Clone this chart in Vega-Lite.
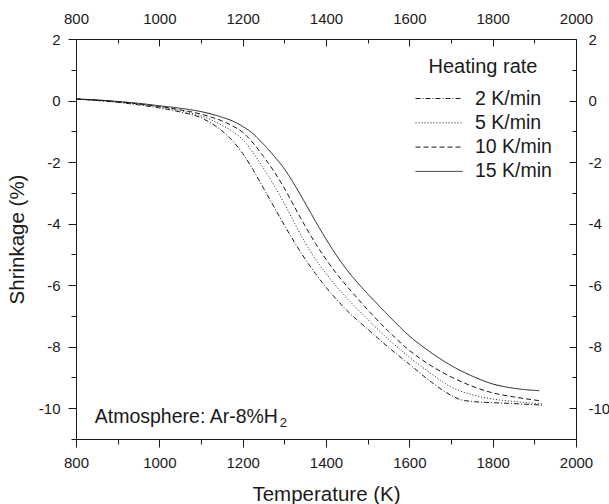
{
  "$schema": "https://vega.github.io/schema/vega-lite/v6.json",
  "width": 500,
  "height": 400,
  "autosize": {"type": "none"},
  "padding": {"left": 76, "top": 39, "right": 33, "bottom": 65},
  "config": {
    "font": "Liberation Sans",
    "view": {"stroke": null},
    "axis": {
      "grid": false,
      "domainColor": "#1a1a1a",
      "tickColor": "#1a1a1a",
      "labelColor": "#1a1a1a",
      "titleColor": "#1a1a1a",
      "labelFont": "Liberation Sans",
      "titleFont": "Liberation Sans",
      "labelFontSize": 15,
      "titleFontSize": 20.5,
      "titleFontWeight": "normal",
      "labelOverlap": false,
      "labelFlush": false
    }
  },
  "datasets": {
    "curves": [
      {"rate": "2 K/min", "T": 800, "S": 0.05}, {"rate": "2 K/min", "T": 850, "S": 0.0}, {"rate": "2 K/min", "T": 900, "S": -0.06}, {"rate": "2 K/min", "T": 950, "S": -0.14}, {"rate": "2 K/min", "T": 1000, "S": -0.24}, {"rate": "2 K/min", "T": 1050, "S": -0.37}, {"rate": "2 K/min", "T": 1100, "S": -0.56}, {"rate": "2 K/min", "T": 1125, "S": -0.74}, {"rate": "2 K/min", "T": 1150, "S": -0.98}, {"rate": "2 K/min", "T": 1175, "S": -1.3}, {"rate": "2 K/min", "T": 1200, "S": -1.72}, {"rate": "2 K/min", "T": 1225, "S": -2.25}, {"rate": "2 K/min", "T": 1250, "S": -2.85}, {"rate": "2 K/min", "T": 1275, "S": -3.45}, {"rate": "2 K/min", "T": 1300, "S": -4.05}, {"rate": "2 K/min", "T": 1325, "S": -4.62}, {"rate": "2 K/min", "T": 1350, "S": -5.15}, {"rate": "2 K/min", "T": 1375, "S": -5.63}, {"rate": "2 K/min", "T": 1400, "S": -6.07}, {"rate": "2 K/min", "T": 1425, "S": -6.46}, {"rate": "2 K/min", "T": 1450, "S": -6.82}, {"rate": "2 K/min", "T": 1500, "S": -7.43}, {"rate": "2 K/min", "T": 1550, "S": -8.02}, {"rate": "2 K/min", "T": 1600, "S": -8.57}, {"rate": "2 K/min", "T": 1650, "S": -9.12}, {"rate": "2 K/min", "T": 1700, "S": -9.58}, {"rate": "2 K/min", "T": 1725, "S": -9.73}, {"rate": "2 K/min", "T": 1750, "S": -9.78}, {"rate": "2 K/min", "T": 1800, "S": -9.82}, {"rate": "2 K/min", "T": 1850, "S": -9.85}, {"rate": "2 K/min", "T": 1920, "S": -9.9},
      {"rate": "5 K/min", "T": 800, "S": 0.05}, {"rate": "5 K/min", "T": 850, "S": 0.01}, {"rate": "5 K/min", "T": 900, "S": -0.05}, {"rate": "5 K/min", "T": 950, "S": -0.12}, {"rate": "5 K/min", "T": 1000, "S": -0.21}, {"rate": "5 K/min", "T": 1050, "S": -0.33}, {"rate": "5 K/min", "T": 1100, "S": -0.5}, {"rate": "5 K/min", "T": 1125, "S": -0.63}, {"rate": "5 K/min", "T": 1150, "S": -0.8}, {"rate": "5 K/min", "T": 1175, "S": -1.0}, {"rate": "5 K/min", "T": 1200, "S": -1.27}, {"rate": "5 K/min", "T": 1225, "S": -1.7}, {"rate": "5 K/min", "T": 1250, "S": -2.2}, {"rate": "5 K/min", "T": 1275, "S": -2.75}, {"rate": "5 K/min", "T": 1300, "S": -3.35}, {"rate": "5 K/min", "T": 1325, "S": -4.0}, {"rate": "5 K/min", "T": 1350, "S": -4.62}, {"rate": "5 K/min", "T": 1375, "S": -5.16}, {"rate": "5 K/min", "T": 1400, "S": -5.62}, {"rate": "5 K/min", "T": 1425, "S": -6.04}, {"rate": "5 K/min", "T": 1450, "S": -6.42}, {"rate": "5 K/min", "T": 1500, "S": -7.11}, {"rate": "5 K/min", "T": 1550, "S": -7.76}, {"rate": "5 K/min", "T": 1600, "S": -8.34}, {"rate": "5 K/min", "T": 1650, "S": -8.85}, {"rate": "5 K/min", "T": 1700, "S": -9.31}, {"rate": "5 K/min", "T": 1750, "S": -9.56}, {"rate": "5 K/min", "T": 1800, "S": -9.7}, {"rate": "5 K/min", "T": 1850, "S": -9.78}, {"rate": "5 K/min", "T": 1920, "S": -9.86},
      {"rate": "10 K/min", "T": 800, "S": 0.05}, {"rate": "10 K/min", "T": 850, "S": 0.01}, {"rate": "10 K/min", "T": 900, "S": -0.04}, {"rate": "10 K/min", "T": 950, "S": -0.11}, {"rate": "10 K/min", "T": 1000, "S": -0.19}, {"rate": "10 K/min", "T": 1050, "S": -0.3}, {"rate": "10 K/min", "T": 1100, "S": -0.44}, {"rate": "10 K/min", "T": 1125, "S": -0.54}, {"rate": "10 K/min", "T": 1150, "S": -0.66}, {"rate": "10 K/min", "T": 1175, "S": -0.82}, {"rate": "10 K/min", "T": 1200, "S": -1.03}, {"rate": "10 K/min", "T": 1225, "S": -1.38}, {"rate": "10 K/min", "T": 1250, "S": -1.82}, {"rate": "10 K/min", "T": 1275, "S": -2.3}, {"rate": "10 K/min", "T": 1300, "S": -2.85}, {"rate": "10 K/min", "T": 1325, "S": -3.47}, {"rate": "10 K/min", "T": 1350, "S": -4.08}, {"rate": "10 K/min", "T": 1375, "S": -4.65}, {"rate": "10 K/min", "T": 1400, "S": -5.16}, {"rate": "10 K/min", "T": 1425, "S": -5.62}, {"rate": "10 K/min", "T": 1450, "S": -6.03}, {"rate": "10 K/min", "T": 1475, "S": -6.42}, {"rate": "10 K/min", "T": 1500, "S": -6.8}, {"rate": "10 K/min", "T": 1550, "S": -7.5}, {"rate": "10 K/min", "T": 1600, "S": -8.12}, {"rate": "10 K/min", "T": 1650, "S": -8.6}, {"rate": "10 K/min", "T": 1700, "S": -8.98}, {"rate": "10 K/min", "T": 1750, "S": -9.28}, {"rate": "10 K/min", "T": 1800, "S": -9.5}, {"rate": "10 K/min", "T": 1850, "S": -9.63}, {"rate": "10 K/min", "T": 1915, "S": -9.76},
      {"rate": "15 K/min", "T": 800, "S": 0.05}, {"rate": "15 K/min", "T": 850, "S": 0.02}, {"rate": "15 K/min", "T": 900, "S": -0.03}, {"rate": "15 K/min", "T": 950, "S": -0.09}, {"rate": "15 K/min", "T": 1000, "S": -0.17}, {"rate": "15 K/min", "T": 1050, "S": -0.25}, {"rate": "15 K/min", "T": 1100, "S": -0.36}, {"rate": "15 K/min", "T": 1125, "S": -0.44}, {"rate": "15 K/min", "T": 1150, "S": -0.54}, {"rate": "15 K/min", "T": 1175, "S": -0.66}, {"rate": "15 K/min", "T": 1200, "S": -0.84}, {"rate": "15 K/min", "T": 1225, "S": -1.08}, {"rate": "15 K/min", "T": 1250, "S": -1.42}, {"rate": "15 K/min", "T": 1275, "S": -1.8}, {"rate": "15 K/min", "T": 1300, "S": -2.22}, {"rate": "15 K/min", "T": 1325, "S": -2.75}, {"rate": "15 K/min", "T": 1350, "S": -3.33}, {"rate": "15 K/min", "T": 1375, "S": -3.93}, {"rate": "15 K/min", "T": 1400, "S": -4.5}, {"rate": "15 K/min", "T": 1425, "S": -5.03}, {"rate": "15 K/min", "T": 1450, "S": -5.5}, {"rate": "15 K/min", "T": 1475, "S": -5.91}, {"rate": "15 K/min", "T": 1500, "S": -6.28}, {"rate": "15 K/min", "T": 1550, "S": -6.99}, {"rate": "15 K/min", "T": 1600, "S": -7.65}, {"rate": "15 K/min", "T": 1650, "S": -8.17}, {"rate": "15 K/min", "T": 1700, "S": -8.61}, {"rate": "15 K/min", "T": 1750, "S": -8.95}, {"rate": "15 K/min", "T": 1800, "S": -9.21}, {"rate": "15 K/min", "T": 1850, "S": -9.35}, {"rate": "15 K/min", "T": 1912, "S": -9.43}
    ],
    "note": [{"label": "Atmosphere: Ar-8%H", "sub": "2", "T": 845, "S": -10.28}]
  },
  "layer": [
    {
      "data": {"name": "curves"},
      "mark": {"type": "line", "interpolate": "monotone", "strokeWidth": 1, "color": "#1a1a1a"},
      "encoding": {
        "x": {
          "field": "T", "type": "quantitative",
          "scale": {"domain": [800, 2000], "nice": false, "zero": false},
          "axis": {
            "orient": "bottom", "title": "Temperature (K)",
            "values": [800, 900, 1000, 1100, 1200, 1300, 1400, 1500, 1600, 1700, 1800, 1900, 2000],
            "labelExpr": "datum.value % 200 === 0 ? '' + datum.value : ''",
            "tickSize": {"condition": {"test": "datum.value % 200 === 0", "value": 8}, "value": 5},
            "labelPadding": 8, "titlePadding": 14
          }
        },
        "y": {
          "field": "S", "type": "quantitative",
          "scale": {"domain": [-11, 2], "nice": false, "zero": false},
          "axis": {
            "orient": "left", "title": "Shrinkage (%)",
            "values": [-11, -10, -9, -8, -7, -6, -5, -4, -3, -2, -1, 0, 1, 2],
            "labelExpr": "datum.value % 2 === 0 ? '' + datum.value : ''",
            "tickSize": {"condition": {"test": "datum.value % 2 === 0", "value": 8}, "value": 5},
            "labelPadding": 8, "titlePadding": 11
          }
        },
        "strokeDash": {
          "field": "rate", "type": "nominal",
          "scale": {"domain": ["2 K/min", "5 K/min", "10 K/min", "15 K/min"], "range": [[5, 2, 1, 2], [1, 2], [5, 3], [1, 0]]},
          "legend": {
            "orient": "none", "legendX": 339, "legendY": 18,
            "title": "Heating rate", "titleFontSize": 20, "titleFontWeight": "normal", "titleAnchor": "middle",
            "titleColor": "#1a1a1a", "titleFont": "Liberation Sans", "titlePadding": 12,
            "labelFontSize": 19.5, "labelColor": "#1a1a1a", "labelFont": "Liberation Sans", "labelOffset": 12,
            "symbolType": "stroke", "symbolSize": 2209, "symbolStrokeWidth": 1, "symbolStrokeColor": "#1a1a1a",
            "clipHeight": 19, "rowPadding": 4.3
          }
        }
      }
    },
    {
      "data": {"name": "note"},
      "mark": {"type": "text", "align": "left", "baseline": "middle", "fontSize": 19.5, "color": "#1a1a1a", "font": "Liberation Sans"},
      "encoding": {
        "x": {
          "field": "T", "type": "quantitative",
          "scale": {"domain": [800, 2000], "nice": false, "zero": false},
          "axis": {
            "orient": "top", "title": null,
            "values": [800, 900, 1000, 1100, 1200, 1300, 1400, 1500, 1600, 1700, 1800, 1900, 2000],
            "labelExpr": "datum.value % 200 === 0 ? '' + datum.value : ''",
            "tickSize": {"condition": {"test": "datum.value % 200 === 0", "value": -7}, "value": -4},
            "labelPadding": 20
          }
        },
        "y": {
          "field": "S", "type": "quantitative",
          "scale": {"domain": [-11, 2], "nice": false, "zero": false},
          "axis": {
            "orient": "right", "title": null,
            "values": [-11, -10, -9, -8, -7, -6, -5, -4, -3, -2, -1, 0, 1, 2],
            "labelExpr": "datum.value % 2 === 0 ? '' + datum.value : ''",
            "tickSize": {"condition": {"test": "datum.value % 2 === 0", "value": -7}, "value": -4},
            "labelPadding": 19
          }
        },
        "text": {"field": "label"}
      }
    },
    {
      "data": {"name": "note"},
      "mark": {"type": "text", "align": "left", "baseline": "middle", "fontSize": 13, "dx": 185, "dy": 6, "color": "#1a1a1a", "font": "Liberation Sans"},
      "encoding": {
        "x": {"field": "T", "type": "quantitative", "scale": {"domain": [800, 2000], "nice": false, "zero": false}, "axis": null},
        "y": {"field": "S", "type": "quantitative", "scale": {"domain": [-11, 2], "nice": false, "zero": false}, "axis": null},
        "text": {"field": "sub"}
      }
    }
  ],
  "resolve": {"axis": {"x": "independent", "y": "independent"}}
}
